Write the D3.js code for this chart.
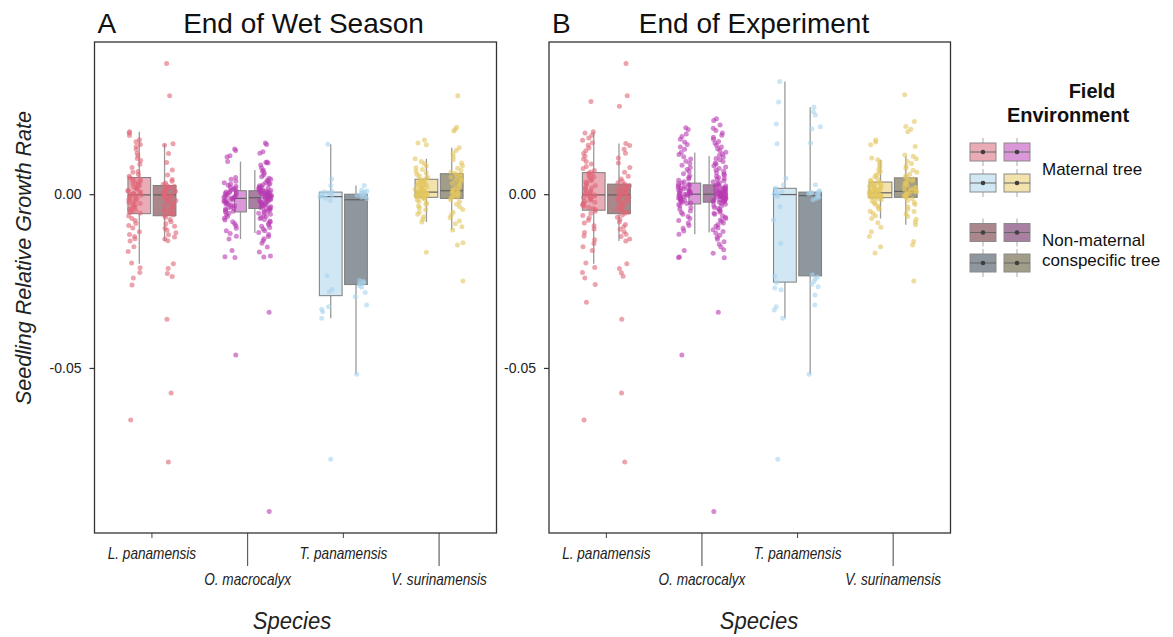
<!DOCTYPE html>
<html><head><meta charset="utf-8">
<script src="https://cdn.jsdelivr.net/npm/d3@7"></script>
<style>
body{margin:0;background:#fff;}
svg{display:block;font-family:"Liberation Sans",Arial,Helvetica,sans-serif;}
</style></head><body>
<svg id="chart" width="1173" height="637"></svg>
<script>
// ---- categories ----
const species = ["L. panamensis", "O. macrocalyx", "T. panamensis", "V. surinamensis"];
const environments = ["Maternal tree", "Non-maternal conspecific tree"];
const panelLetters = ["A", "B"];
const panelTitles = ["End of Wet Season", "End of Experiment"];
const yTickValues = [0, -0.05];
const yTickLabels = ["0.00", "-0.05"];

// ---- box summaries: [lower whisker, Q1, median, Q3, upper whisker] ----
// order: L mat, L non, O mat, O non, T mat, T non, V mat, V non
const wetBoxes = [
  [-0.0200, -0.0056, -0.0002, 0.0048, 0.0180],
  [-0.0135, -0.0062, -0.0002, 0.0025, 0.0145],
  [-0.0129, -0.0051, -0.0012, 0.0010, 0.0094],
  [-0.0112, -0.0041, -0.0010, 0.0010, 0.0070],
  [-0.0357, -0.0292, -0.0007, 0.0006, 0.0144],
  [-0.0518, -0.0260, -0.0016, 0.0000, 0.0025],
  [-0.0080, -0.0009, 0.0006, 0.0043, 0.0102],
  [-0.0103, -0.0012, 0.0010, 0.0059, 0.0134]
];
const expBoxes = [
  [-0.0200, -0.0046, -0.0002, 0.0062, 0.0180],
  [-0.0135, -0.0056, -0.0002, 0.0029, 0.0146],
  [-0.0115, -0.0028, 0.0000, 0.0032, 0.0120],
  [-0.0110, -0.0023, 0.0000, 0.0027, 0.0110],
  [-0.0357, -0.0253, -0.0001, 0.0017, 0.0324],
  [-0.0518, -0.0235, -0.0004, 0.0006, 0.0250],
  [-0.0070, -0.0010, 0.0004, 0.0035, 0.0099],
  [-0.0088, -0.0009, 0.0008, 0.0047, 0.0109]
];

// ---- individual seedling growth rates, end of wet season ----
const wetLpanMat = [0.0180,0.0176,0.0169,0.0157,0.0151,0.0143,0.0137,0.0129,0.0118,0.0111,0.0103,0.0097,0.0086,0.0077,0.0065,0.0063,0.0057,0.0052,
 0.0047,0.0044,0.0043,0.0040,0.0037,0.0034,0.0031,0.0030,0.0027,0.0024,0.0021,0.0018,0.0017,0.0014,0.0011,0.0009,0.0006,0.0004,0.0002,0.0001,-0.0001,-0.0003,
 -0.0005,-0.0007,-0.0009,-0.0011,-0.0013,-0.0016,-0.0019,-0.0021,-0.0024,-0.0027,-0.0029,-0.0032,-0.0035,-0.0038,-0.0041,-0.0043,-0.0046,-0.0049,-0.0052,-0.0054,
 -0.0063,-0.0070,-0.0076,-0.0084,-0.0090,-0.0097,-0.0108,-0.0116,-0.0122,-0.0128,-0.0135,-0.0151,-0.0165,-0.0198,-0.0212,-0.0225,-0.0241,-0.0261,-0.0650];
const wetLpanNon = [0.0376,0.0283,0.0145,0.0141,0.0117,0.0091,0.0070,0.0055,0.0042,0.0037,0.0032,0.0028,0.0025,0.0023,0.0021,0.0019,0.0017,0.0014,0.0012,0.0010,
 0.0008,0.0006,0.0004,0.0002,0.0000,-0.0002,-0.0004,-0.0006,-0.0009,-0.0011,-0.0013,-0.0016,-0.0018,-0.0021,-0.0024,-0.0026,-0.0029,-0.0032,-0.0035,-0.0038,
 -0.0041,-0.0044,-0.0047,-0.0050,-0.0053,-0.0056,-0.0059,-0.0061,-0.0066,-0.0073,-0.0079,-0.0085,-0.0092,-0.0098,-0.0104,-0.0111,-0.0117,-0.0123,-0.0129,-0.0134,
 -0.0200,-0.0214,-0.0228,-0.0237,-0.0360,-0.0572,-0.0771];
const wetOmacMat = [0.0130,0.0126,0.0111,0.0107,0.0094,0.0048,0.0043,0.0037,0.0033,0.0029,0.0026,0.0023,0.0020,0.0017,0.0015,0.0012,0.0010,0.0008,0.0006,0.0004,
 0.0002,0.0001,-0.0001,-0.0003,-0.0004,-0.0006,-0.0008,-0.0010,-0.0011,-0.0012,-0.0014,-0.0016,-0.0017,-0.0019,-0.0021,-0.0023,-0.0025,-0.0027,-0.0029,-0.0031,
 -0.0033,-0.0036,-0.0038,-0.0041,-0.0043,-0.0046,-0.0049,-0.0051,-0.0055,-0.0059,-0.0064,-0.0069,-0.0074,-0.0079,-0.0085,-0.0091,-0.0098,-0.0105,-0.0113,-0.0121,
 -0.0129,-0.0162,-0.0180,-0.0182,-0.0463];
const wetOmacNon = [0.0147,0.0143,0.0122,0.0118,0.0093,0.0091,0.0090,0.0084,0.0076,0.0070,0.0066,0.0061,0.0055,0.0050,0.0046,0.0043,0.0040,0.0037,0.0034,0.0031,
 0.0029,0.0027,0.0024,0.0022,0.0020,0.0018,0.0016,0.0015,0.0013,0.0012,0.0011,0.0010,0.0009,0.0008,0.0007,0.0006,0.0005,0.0004,0.0003,0.0002,
 0.0001,0.0000,-0.0001,-0.0002,-0.0003,-0.0004,-0.0005,-0.0006,-0.0007,-0.0008,-0.0009,-0.0010,-0.0011,-0.0012,-0.0013,-0.0014,-0.0015,-0.0017,-0.0018,-0.0019,
 -0.0021,-0.0022,-0.0024,-0.0025,-0.0027,-0.0028,-0.0030,-0.0031,-0.0033,-0.0035,-0.0036,-0.0038,-0.0039,-0.0041,-0.0043,-0.0045,-0.0048,-0.0050,-0.0053,-0.0055,
 -0.0058,-0.0061,-0.0064,-0.0067,-0.0070,-0.0073,-0.0077,-0.0080,-0.0084,-0.0088,-0.0092,-0.0096,-0.0100,-0.0105,-0.0110,-0.0116,-0.0122,-0.0128,-0.0134,-0.0141,
 -0.0152,-0.0166,-0.0178,-0.0181,-0.0340,-0.0913];
const wetTpanMat = [0.0144,0.0044,0.0025,0.0008,0.0006,0.0004,0.0002,0.0000,-0.0002,-0.0005,-0.0008,-0.0012,-0.0018,-0.0235,-0.0274,-0.0281,-0.0324,-0.0331,-0.0338,-0.0357,-0.0763];
const wetTpanNon = [0.0025,0.0012,0.0009,0.0006,0.0004,0.0002,0.0000,-0.0003,-0.0006,-0.0009,-0.0013,-0.0248,-0.0251,-0.0255,-0.0259,-0.0263,-0.0268,-0.0283,-0.0295,-0.0319,-0.0518];
const wetVsurMat = [0.0156,0.0147,0.0142,0.0102,0.0094,0.0088,0.0082,0.0076,0.0071,0.0066,0.0061,0.0057,0.0053,0.0049,0.0046,
 0.0043,0.0041,0.0039,0.0037,0.0035,0.0033,0.0031,0.0029,0.0027,0.0025,0.0023,0.0021,0.0019,0.0017,0.0016,0.0014,0.0013,0.0011,0.0010,0.0009,0.0008,0.0007,0.0006,
 0.0005,0.0004,0.0003,0.0002,0.0001,0.0000,-0.0001,-0.0002,-0.0003,-0.0004,-0.0005,-0.0006,-0.0007,-0.0008,-0.0009,
 -0.0011,-0.0014,-0.0017,-0.0021,-0.0025,-0.0029,-0.0034,-0.0039,-0.0045,-0.0051,-0.0058,-0.0065,-0.0072,-0.0080,-0.0167];
const wetVsurNon = [0.0283,0.0193,0.0186,0.0182,0.0134,0.0126,0.0117,0.0108,0.0099,0.0090,0.0082,0.0075,0.0069,0.0064,0.0060,
 0.0058,0.0055,0.0052,0.0049,0.0046,0.0043,0.0040,0.0037,0.0034,0.0031,0.0028,0.0025,0.0022,0.0019,0.0016,0.0013,0.0011,
 0.0009,0.0007,0.0005,0.0003,0.0001,-0.0001,-0.0003,-0.0005,-0.0007,-0.0009,-0.0011,
 -0.0016,-0.0022,-0.0029,-0.0036,-0.0044,-0.0052,-0.0060,-0.0068,-0.0077,-0.0085,-0.0094,-0.0103,-0.0140,-0.0146,-0.0250];

// ---- individual seedling growth rates, end of experiment ----
const expLpanMat = [0.0267,0.0180,0.0176,0.0170,0.0162,0.0155,0.0148,0.0141,0.0133,0.0125,0.0117,0.0109,0.0101,0.0094,0.0087,0.0080,0.0074,0.0068,0.0064,
 0.0060,0.0057,0.0053,0.0050,0.0046,0.0042,0.0039,0.0035,0.0032,0.0028,0.0025,0.0021,0.0018,0.0015,0.0012,0.0009,0.0006,0.0003,0.0001,-0.0001,-0.0002,
 -0.0004,-0.0006,-0.0009,-0.0011,-0.0014,-0.0017,-0.0020,-0.0023,-0.0026,-0.0029,-0.0032,-0.0035,-0.0038,-0.0041,-0.0044,
 -0.0049,-0.0055,-0.0061,-0.0068,-0.0075,-0.0083,-0.0091,-0.0100,-0.0110,-0.0120,-0.0131,-0.0142,-0.0151,-0.0162,-0.0198,-0.0211,-0.0225,-0.0241,-0.0260,-0.0311,-0.0650];
const expLpanNon = [0.0376,0.0283,0.0253,0.0146,0.0140,0.0129,0.0118,0.0104,0.0090,0.0077,0.0063,0.0052,0.0044,0.0038,0.0033,
 0.0029,0.0026,0.0024,0.0021,0.0019,0.0017,0.0014,0.0012,0.0010,0.0008,0.0006,0.0004,0.0002,0.0000,-0.0002,
 -0.0004,-0.0006,-0.0009,-0.0011,-0.0014,-0.0016,-0.0019,-0.0022,-0.0025,-0.0028,-0.0031,-0.0034,-0.0037,-0.0040,-0.0043,-0.0046,-0.0049,-0.0052,-0.0055,
 -0.0060,-0.0066,-0.0073,-0.0080,-0.0087,-0.0094,-0.0101,-0.0108,-0.0115,-0.0122,-0.0129,-0.0135,-0.0200,-0.0214,-0.0226,-0.0236,-0.0360,-0.0572,-0.0771];
const expOmacMat = [0.0191,0.0186,0.0173,0.0166,0.0158,0.0150,0.0143,0.0136,0.0129,0.0120,0.0114,0.0108,0.0101,0.0095,0.0089,0.0083,0.0077,0.0071,0.0065,0.0059,
 0.0053,0.0048,0.0044,0.0040,0.0036,0.0032,0.0030,0.0028,0.0026,0.0024,0.0022,0.0020,0.0018,0.0016,0.0014,0.0012,0.0010,0.0009,0.0007,0.0005,
 0.0004,0.0002,0.0001,0.0000,-0.0001,-0.0003,-0.0004,-0.0006,-0.0008,-0.0010,-0.0011,-0.0013,-0.0015,-0.0017,-0.0019,-0.0021,-0.0023,-0.0025,-0.0027,
 -0.0030,-0.0034,-0.0038,-0.0043,-0.0048,-0.0053,-0.0058,-0.0064,-0.0070,-0.0076,-0.0083,-0.0090,-0.0098,-0.0106,-0.0115,-0.0162,-0.0181,-0.0182,-0.0463];
const expOmacNon = [0.0217,0.0212,0.0199,0.0190,0.0183,0.0176,0.0170,0.0164,0.0158,0.0152,0.0147,0.0141,0.0136,0.0131,0.0126,0.0121,0.0116,0.0112,0.0107,0.0103,
 0.0099,0.0094,0.0090,0.0086,0.0082,0.0078,0.0074,0.0070,0.0066,0.0062,0.0058,0.0055,0.0051,0.0048,0.0045,0.0042,0.0039,0.0036,0.0033,0.0030,
 0.0027,0.0025,0.0024,0.0022,0.0021,0.0019,0.0018,0.0016,0.0015,0.0013,0.0012,0.0010,0.0009,0.0008,0.0007,0.0006,0.0005,0.0004,0.0003,0.0002,0.0001,0.0000,
 -0.0001,-0.0002,-0.0003,-0.0004,-0.0005,-0.0006,-0.0007,-0.0008,-0.0009,-0.0010,-0.0011,-0.0012,-0.0013,-0.0015,-0.0016,-0.0017,-0.0018,-0.0020,-0.0021,-0.0022,-0.0023,
 -0.0026,-0.0029,-0.0032,-0.0035,-0.0038,-0.0041,-0.0044,-0.0048,-0.0051,-0.0055,-0.0058,-0.0062,-0.0066,-0.0070,-0.0074,-0.0078,-0.0083,-0.0087,-0.0092,-0.0097,
 -0.0102,-0.0107,-0.0112,-0.0118,-0.0124,-0.0130,-0.0137,-0.0144,-0.0152,-0.0160,-0.0170,-0.0183,-0.0340,-0.0913];
const expTpanMat = [0.0324,0.0265,0.0202,0.0145,0.0046,0.0027,0.0018,0.0012,0.0007,0.0003,0.0000,-0.0003,-0.0007,-0.0036,-0.0074,-0.0141,-0.0237,-0.0254,-0.0270,-0.0275,-0.0324,-0.0333,-0.0357,-0.0763];
const expTpanNon = [0.0250,0.0237,0.0228,0.0194,0.0188,0.0147,0.0027,0.0010,0.0007,0.0005,0.0003,0.0001,-0.0001,-0.0004,-0.0008,-0.0012,-0.0016,-0.0232,-0.0238,-0.0244,-0.0251,-0.0259,-0.0266,-0.0290,-0.0319,-0.0518];
const expVsurMat = [0.0156,0.0150,0.0142,0.0104,0.0099,0.0093,0.0086,0.0079,0.0072,0.0066,0.0060,0.0055,0.0050,0.0045,0.0040,0.0037,
 0.0035,0.0033,0.0031,0.0029,0.0027,0.0025,0.0023,0.0021,0.0019,0.0017,0.0015,0.0013,0.0012,0.0010,0.0009,0.0008,0.0007,0.0006,0.0005,0.0004,
 0.0003,0.0002,0.0001,0.0000,-0.0001,-0.0002,-0.0003,-0.0004,-0.0005,-0.0006,-0.0007,-0.0008,-0.0009,-0.0010,
 -0.0013,-0.0016,-0.0020,-0.0024,-0.0028,-0.0033,-0.0038,-0.0043,-0.0049,-0.0055,-0.0062,-0.0070,-0.0082,-0.0095,-0.0108,-0.0122,-0.0151,-0.0169];
const expVsurNon = [0.0286,0.0209,0.0195,0.0187,0.0180,0.0137,0.0113,0.0109,0.0102,0.0095,0.0088,0.0081,0.0075,0.0069,0.0063,0.0058,0.0053,0.0049,
 0.0047,0.0044,0.0041,0.0038,0.0035,0.0032,0.0029,0.0026,0.0023,0.0020,0.0018,0.0015,0.0013,0.0011,0.0009,0.0008,
 0.0007,0.0005,0.0003,0.0001,-0.0001,-0.0003,-0.0005,-0.0007,-0.0009,
 -0.0013,-0.0018,-0.0024,-0.0030,-0.0036,-0.0043,-0.0050,-0.0057,-0.0064,-0.0072,-0.0080,-0.0088,-0.0136,-0.0146,-0.0250];

const wetPoints = [wetLpanMat, wetLpanNon, wetOmacMat, wetOmacNon, wetTpanMat, wetTpanNon, wetVsurMat, wetVsurNon];
const expPoints = [expLpanMat, expLpanNon, expOmacMat, expOmacNon, expTpanMat, expTpanNon, expVsurMat, expVsurNon];

// ---- colours (per species) ----
const maternalFill = ["#e9acb6", "#da98d8", "#d2e7f4", "#f1e3ab"];
const nonMaternalFill = ["#a9878a", "#a780a2", "#8e969e", "#a29d88"];
const pointColour = ["#df6577", "#b83ab2", "#a6d4ef", "#e3c75f"];
// relative box width per species (O. macrocalyx boxes are drawn narrower)
const boxWidthFactor = [1, 0.52, 1, 1];

// ---- layout ----
const svg = d3.select("#chart");
const plotTop = 42, plotBottom = 533;
const panelX = [[94.5, 496.5], [549, 950.5]];

const y = d3.scaleLinear().domain([-0.0975, 0.0438]).range([plotBottom, plotTop]);
const dodgeBox = d3.scaleBand().domain(environments).range([-24, 24]).paddingInner(0.1);
const dodgePoint = d3.scalePoint().domain(environments).range([-17.5, 17.5]);
const rng = d3.randomLcg(0.2718);
const jitter = d3.randomUniform.source(rng)(-6.5, 6.5);

// condensed italic label (horizontally squeezed sans)
function condensedText(g, x, yy, size, squeeze, txt) {
  g.append("text").attr("transform", `translate(${x},${yy}) scale(${squeeze},1)`)
    .attr("text-anchor", "middle").attr("font-size", size).attr("font-style", "italic")
    .attr("fill", "#222").text(txt);
}

function drawPanel(p, boxes, points) {
  const [x0, x1] = panelX[p];
  const x = d3.scalePoint().domain(species).range([x0, x1]).padding(0.6);
  const g = svg.append("g");

  // panel title
  g.append("text").attr("x", x0 + 3).attr("y", 33).attr("font-size", 28).attr("fill", "#111")
    .text(panelLetters[p]);
  g.append("text").attr("x", p === 0 ? 303.5 : 754).attr("y", 33).attr("text-anchor", "middle")
    .attr("font-size", 28).attr("fill", "#111").text(panelTitles[p]);

  // y axis
  const yAxis = d3.axisLeft(y).tickValues(yTickValues).tickSize(5).tickPadding(8)
    .tickFormat((d, i) => yTickLabels[i]);
  const ya = g.append("g").attr("transform", `translate(${x0},0)`).call(yAxis);
  ya.select(".domain").remove();
  ya.selectAll(".tick line").attr("stroke", "#333").attr("stroke-width", 1.2);
  ya.selectAll(".tick text").attr("font-size", 14).attr("fill", "#222")
    .attr("font-family", "Liberation Sans, Arial, sans-serif");

  // x axis: alternate short and long ticks so the labels stagger
  species.forEach((s, i) => {
    const long = i % 2 === 1;
    g.append("line").attr("x1", x(s)).attr("x2", x(s)).attr("y1", plotBottom)
      .attr("y2", plotBottom + (long ? 33 : 5)).attr("stroke", "#444").attr("stroke-width", 1);
    condensedText(g, x(s), long ? 585 : 559, 16, 0.85, s);
  });
  condensedText(g, p === 0 ? 292 : 759, 629, 24.5, 0.9, "Species");

  // boxes
  species.forEach((s, i) => {
    environments.forEach((e, j) => {
      const k = i * 2 + j;
      const [lo, q1, med, q3, hi] = boxes[k];
      const bw = dodgeBox.bandwidth() * boxWidthFactor[i];
      const half = dodgeBox.bandwidth() / 2;
      // narrow boxes stay against the category centre
      const cx = x(s) + dodgeBox(e) + half + (j === 0 ? 1 : -1) * (half - bw / 2);
      g.append("line").attr("x1", cx).attr("x2", cx).attr("y1", y(hi)).attr("y2", y(q3))
        .attr("stroke", "#9a9a9a").attr("stroke-width", 1.3);
      g.append("line").attr("x1", cx).attr("x2", cx).attr("y1", y(q1)).attr("y2", y(lo))
        .attr("stroke", "#9a9a9a").attr("stroke-width", 1.3);
      g.append("rect").attr("x", cx - bw / 2).attr("y", y(q3)).attr("width", bw)
        .attr("height", Math.max(0.5, y(q1) - y(q3)))
        .attr("fill", j === 0 ? maternalFill[i] : nonMaternalFill[i])
        .attr("stroke", "#7d7d7d").attr("stroke-width", 1);
      g.append("line").attr("x1", cx - bw / 2).attr("x2", cx + bw / 2).attr("y1", y(med)).attr("y2", y(med))
        .attr("stroke", "#5f5f5f").attr("stroke-width", 1.2);
    });
  });

  // jittered seedlings
  species.forEach((s, i) => {
    environments.forEach((e, j) => {
      const k = i * 2 + j;
      g.append("g").selectAll("circle").data(points[k]).join("circle")
        .attr("cx", () => x(s) + dodgePoint(e) + jitter())
        .attr("cy", d => y(d))
        .attr("r", 2.5)
        .attr("fill", pointColour[i])
        .attr("fill-opacity", 0.6);
    });
  });

  // panel frame
  g.append("rect").attr("x", x0).attr("y", plotTop).attr("width", x1 - x0).attr("height", plotBottom - plotTop)
    .attr("fill", "none").attr("stroke", "#333").attr("stroke-width", 1.3);
}

drawPanel(0, wetBoxes, wetPoints);
drawPanel(1, expBoxes, expPoints);

// y label
svg.append("text").attr("transform", "translate(31,258) rotate(-90)").attr("text-anchor", "middle")
  .attr("font-size", 21.5).attr("font-style", "italic").attr("fill", "#222").text("Seedling Relative Growth Rate");

// legend
const leg = svg.append("g");
leg.append("text").attr("x", 1092).attr("y", 98).attr("text-anchor", "middle").attr("font-size", 20)
  .attr("font-weight", "bold").attr("fill", "#111").text("Field");
leg.append("text").attr("x", 1068).attr("y", 122).attr("text-anchor", "middle").attr("font-size", 20)
  .attr("font-weight", "bold").attr("fill", "#111").text("Environment");

const keyCols = [970, 1004];
const keyRows = [[143, 174], [223.5, 254]];
const keyW = 26, keyH = 18;
environments.forEach((e, j) => {
  const fills = j === 0 ? maternalFill : nonMaternalFill;
  species.forEach((s, i) => {
    const kx = keyCols[i % 2], ky = keyRows[j][Math.floor(i / 2)];
    const cx = kx + keyW / 2;
    leg.append("line").attr("x1", cx).attr("x2", cx).attr("y1", ky - 5).attr("y2", ky + keyH + 5)
      .attr("stroke", "#aaa").attr("stroke-width", 1);
    leg.append("rect").attr("x", kx).attr("y", ky).attr("width", keyW).attr("height", keyH)
      .attr("fill", fills[i]).attr("stroke", "#8a8a8a").attr("stroke-width", 1);
    leg.append("line").attr("x1", kx).attr("x2", kx + keyW).attr("y1", ky + keyH / 2).attr("y2", ky + keyH / 2)
      .attr("stroke", "#666").attr("stroke-width", 1);
    leg.append("circle").attr("cx", cx).attr("cy", ky + keyH / 2).attr("r", 2.3).attr("fill", "#3f3f3f");
  });
});
leg.append("text").attr("x", 1042).attr("y", 175).attr("font-size", 17).attr("fill", "#111").text("Maternal tree");
leg.append("text").attr("x", 1042).attr("y", 246).attr("font-size", 17).attr("fill", "#111").text("Non-maternal");
leg.append("text").attr("x", 1042).attr("y", 266).attr("font-size", 17).attr("fill", "#111").text("conspecific tree");
</script>
</body></html>
